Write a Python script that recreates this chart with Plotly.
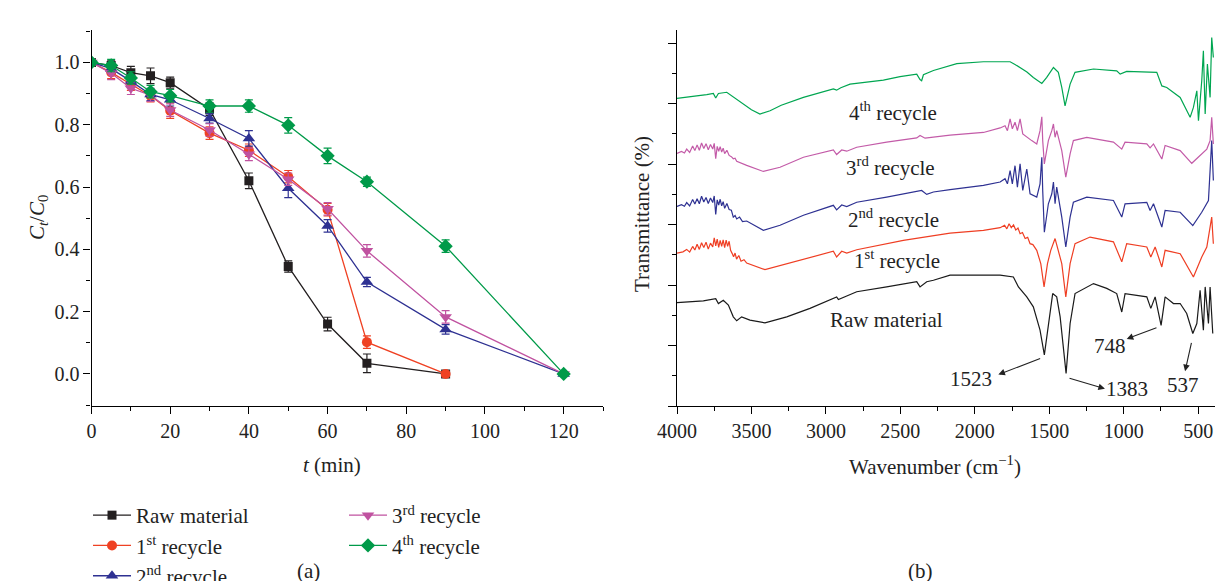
import plotly.graph_objects as go

# ---------------- (a) kinetics data ----------------
t_raw = [0, 5, 10, 15, 20, 30, 40, 50, 60, 70, 90]
c_raw = [1.0, 0.99, 0.967, 0.957, 0.935, 0.85, 0.62, 0.345, 0.16, 0.034, 0.0]
e_raw = [0.01, 0.015, 0.02, 0.025, 0.018, 0.02, 0.025, 0.018, 0.022, 0.03, 0.0]

t_r1 = [0, 5, 10, 15, 20, 30, 40, 50, 60, 70, 90]
c_r1 = [1.0, 0.968, 0.93, 0.893, 0.845, 0.773, 0.718, 0.633, 0.527, 0.102, 0.0]
e_r1 = [0.01, 0.02, 0.02, 0.02, 0.025, 0.02, 0.02, 0.02, 0.02, 0.02, 0.0]

t_r2 = [0, 5, 10, 15, 20, 30, 40, 50, 60, 70, 90, 120]
c_r2 = [1.0, 0.98, 0.94, 0.897, 0.88, 0.82, 0.756, 0.596, 0.475, 0.295, 0.143, 0.0]
e_r2 = [0.01, 0.015, 0.02, 0.02, 0.02, 0.015, 0.025, 0.03, 0.02, 0.015, 0.015, 0.0]

t_r3 = [0, 5, 10, 15, 20, 30, 40, 50, 60, 70, 90, 120]
c_r3 = [1.0, 0.965, 0.917, 0.895, 0.847, 0.783, 0.705, 0.625, 0.53, 0.395, 0.183, 0.0]
e_r3 = [0.01, 0.02, 0.02, 0.02, 0.02, 0.02, 0.02, 0.02, 0.02, 0.02, 0.02, 0.0]

t_r4 = [0, 5, 10, 15, 20, 30, 40, 50, 60, 70, 90, 120]
c_r4 = [1.0, 0.99, 0.95, 0.906, 0.893, 0.86, 0.86, 0.798, 0.70, 0.617, 0.41, 0.0]
e_r4 = [0.01, 0.02, 0.02, 0.02, 0.02, 0.02, 0.02, 0.025, 0.025, 0.015, 0.02, 0.0]

series_names = ["Raw material", "1<sup>st</sup> recycle", "2<sup>nd</sup> recycle",
                "3<sup>rd</sup> recycle", "4<sup>th</sup> recycle"]

# ---------------- (b) FTIR spectra (arbitrary transmittance units) ----------------
wn_r4 = [4000, 3935, 3868, 3800, 3756, 3740, 3722, 3666, 3633, 3554, 3500, 3443, 3375, 3300, 3151,
         2950, 2928, 2900, 2838, 2614, 2502, 2390, 2368, 2357, 2345, 2278, 2166, 2121, 1942, 1763,
         1730, 1696, 1650, 1607, 1550, 1517, 1472, 1439, 1416, 1394, 1360, 1327, 1203, 1047, 1024,
         980, 778, 744, 711, 621, 554, 532, 509, 498, 476, 465, 453, 438, 420, 409, 398]
tr_r4 = [101.8, 102.1, 102.6, 103.0, 103.4, 101.9, 103.4, 103.8, 102.7, 99.9, 98.0, 96.6, 97.7, 99.5, 102.1,
         104.9, 104.5, 105.3, 106.5, 107.8, 109.0, 109.8, 108.0, 107.6, 109.6, 111.0, 112.5, 113.3, 113.9, 113.9,
         113.0, 112.0, 110.5, 108.7, 106.7, 108.7, 112.0, 110.4, 105.4, 99.3, 106.5, 110.4, 111.5, 110.9, 109.8,
         110.7, 110.4, 105.9, 105.4, 102.1, 95.5, 98.8, 104.3, 94.4, 107.6, 117.5, 96.6, 113.1, 102.1, 121.9, 115.3]

wn_r3 = [4000, 3970, 3950, 3935, 3915, 3895, 3880, 3865, 3850, 3835, 3820, 3805, 3790, 3775, 3760,
         3750, 3740, 3730, 3720, 3710, 3700, 3690, 3680, 3665, 3650, 3635, 3622, 3610, 3599, 3580,
         3560, 3532, 3420, 3308, 3151, 2950, 2928, 2894, 2860, 2793, 2592, 2390, 2368, 2334, 2166,
         1942, 1830, 1797, 1781, 1763, 1748, 1730, 1714, 1696, 1678, 1651, 1618, 1584, 1562, 1550,
         1544, 1533, 1506, 1483, 1472, 1461, 1450, 1416, 1389, 1360, 1338, 1248, 1069, 1013, 991,
         845, 823, 800, 744, 722, 621, 543, 487, 442, 420, 409, 398]
tr_r3 = [83.6, 84.2, 83.7, 85.0, 83.9, 86.0, 84.5, 86.4, 84.6, 87.0, 85.2, 86.8, 84.8, 86.5, 85.0,
         86.9, 81.8, 85.9, 84.3, 85.8, 84.0, 85.3, 83.5, 84.6, 82.9, 82.5, 81.8, 82.0, 81.0, 80.6,
         80.4, 79.6, 77.6, 79.0, 82.3, 84.7, 83.2, 84.7, 84.3, 85.6, 87.3, 88.7, 89.5, 88.6, 89.6,
         90.5, 92.0, 92.7, 91.1, 95.0, 91.7, 93.9, 91.1, 95.0, 90.0, 88.9, 87.8, 86.7, 91.1, 95.7,
         87.8, 80.1, 87.8, 91.1, 93.3, 88.9, 91.1, 84.5, 75.7, 83.4, 87.8, 88.9, 87.3, 85.0, 87.3,
         86.7, 85.4, 86.7, 81.7, 86.2, 84.5, 80.3, 82.9, 85.0, 87.8, 95.5, 86.7]

wn_r2 = [4000, 3970, 3950, 3935, 3915, 3895, 3880, 3865, 3850, 3835, 3820, 3805, 3790, 3775, 3760,
         3750, 3740, 3730, 3720, 3710, 3700, 3690, 3680, 3665, 3650, 3635, 3622, 3610, 3599, 3580,
         3560, 3532, 3420, 3308, 3151, 2950, 2928, 2894, 2860, 2793, 2592, 2390, 2357, 2323, 2278,
         2166, 1942, 1830, 1797, 1781, 1763, 1748, 1730, 1714, 1696, 1678, 1651, 1629, 1584, 1562,
         1550, 1544, 1533, 1506, 1483, 1472, 1461, 1450, 1416, 1389, 1360, 1338, 1248, 1069, 1013,
         991, 845, 823, 800, 744, 722, 621, 536, 476, 431, 409, 398]
tr_r2 = [66.0, 66.6, 66.1, 67.3, 66.2, 68.3, 66.8, 68.6, 66.9, 69.4, 67.5, 69.0, 67.0, 68.8, 67.3,
         69.5, 63.4, 68.2, 66.5, 68.4, 66.2, 67.6, 65.4, 67.0, 65.0, 64.8, 62.5, 63.0, 61.9, 62.5,
         61.0, 61.2, 58.1, 59.8, 63.1, 66.4, 64.9, 66.5, 66.0, 67.4, 69.1, 70.8, 71.3, 70.0, 70.8,
         71.6, 73.0, 74.1, 75.2, 73.5, 77.9, 73.5, 79.5, 72.4, 80.1, 71.3, 78.4, 70.2, 69.1, 73.5,
         82.3, 71.3, 57.5, 66.9, 70.2, 74.1, 66.9, 72.4, 62.5, 52.6, 62.5, 67.4, 69.1, 68.0, 62.5,
         66.9, 67.4, 64.7, 66.9, 59.2, 64.7, 64.1, 59.7, 64.1, 68.0, 87.8, 74.6]

wn_r1 = [4000, 3960, 3935, 3915, 3895, 3880, 3865, 3850, 3835, 3820, 3805, 3790, 3775, 3760, 3750,
         3740, 3730, 3720, 3710, 3700, 3690, 3680, 3670, 3660, 3650, 3640, 3630, 3620, 3610, 3600,
         3585, 3570, 3550, 3532, 3409, 3263, 3107, 2950, 2928, 2894, 2860, 2793, 2480, 2166, 1942,
         1830, 1800, 1785, 1770, 1755, 1740, 1725, 1710, 1696, 1680, 1662, 1645, 1629, 1610, 1595,
         1584, 1557, 1535, 1512, 1490, 1461, 1439, 1416, 1389, 1360, 1327, 1226, 1069, 1013, 980,
         845, 818, 789, 744, 722, 621, 532, 476, 442, 409, 398]
tr_r1 = [50.6, 51.0, 51.8, 50.9, 52.8, 51.6, 53.5, 51.8, 54.0, 52.4, 54.2, 51.9, 53.9, 52.6, 55.6,
         53.0, 55.2, 52.5, 54.8, 52.8, 55.0, 52.4, 54.9, 52.8, 54.5, 51.5, 50.5, 49.4, 50.6, 48.6,
         49.8, 47.9, 48.4, 47.3, 45.1, 47.1, 49.3, 51.2, 49.3, 51.2, 50.6, 51.7, 54.8, 57.2, 58.1,
         59.0, 59.8, 58.6, 60.3, 59.0, 59.9, 58.2, 58.9, 57.0, 57.4, 55.4, 55.8, 53.7, 53.4, 52.2,
         51.5, 47.1, 39.4, 47.1, 51.5, 55.4, 51.5, 47.1, 36.1, 47.1, 53.7, 55.9, 54.3, 47.7, 53.7,
         52.6, 49.3, 52.6, 46.0, 51.5, 50.4, 42.7, 49.3, 52.6, 62.5, 53.7]

wn_raw = [4000, 3823, 3740, 3722, 3689, 3655, 3622, 3599, 3566, 3510, 3409, 3263, 3107, 2950, 2928,
          2916, 2793, 2592, 2390, 2368, 2323, 2278, 2166, 1830, 1741, 1707, 1651, 1607, 1562, 1533,
          1506, 1477, 1450, 1427, 1387, 1360, 1327, 1203, 1114, 1047, 1013, 991, 845, 818, 789,
          749, 722, 666, 621, 577, 536, 509, 487, 465, 453, 431, 420, 402]
tr_raw = [34.2, 34.8, 35.5, 33.9, 35.0, 33.4, 29.5, 28.2, 29.5, 28.4, 27.5, 29.5, 32.3, 35.5, 36.1,
          35.2, 37.8, 39.4, 41.1, 39.4, 41.1, 41.6, 43.3, 43.3, 42.7, 39.4, 36.1, 32.8, 25.1, 16.9,
          27.3, 37.2, 36.1, 29.5, 10.8, 27.3, 37.2, 40.5, 38.9, 37.2, 31.1, 37.2, 36.1, 32.3, 36.1,
          26.7, 36.1, 33.9, 33.9, 30.6, 24.0, 27.3, 38.3, 25.1, 39.4, 27.3, 39.4, 24.0]

colors_a = ["#231f20", "#ef4123", "#2e3192", "#c052a0", "#009a49"]
colors_b = ["#1a1a1a", "#ef3e23", "#2e3192", "#c35ba8", "#00a651"]
symbols = ["square", "circle", "triangle-up", "triangle-down", "diamond"]
msizes = [9, 10, 11, 11, 11]
legend_ids = ["legend", "legend", "legend", "legend2", "legend2"]

FONT = "Liberation Serif"
fig = go.Figure()

kin = [(t_raw, c_raw, e_raw), (t_r1, c_r1, e_r1), (t_r2, c_r2, e_r2),
       (t_r3, c_r3, e_r3), (t_r4, c_r4, e_r4)]
for i, (t, c, e) in enumerate(kin):
    fig.add_trace(go.Scatter(
        x=t, y=c, mode="lines+markers", name=series_names[i],
        line=dict(color=colors_a[i], width=1.3),
        marker=dict(symbol=symbols[i], size=msizes[i], color=colors_a[i]),
        error_y=dict(type="data", array=e, color=colors_a[i], thickness=1.2, width=4),
        legend=legend_ids[i], xaxis="x", yaxis="y"))

spec = [(wn_raw, tr_raw), (wn_r1, tr_r1), (wn_r2, tr_r2), (wn_r3, tr_r3), (wn_r4, tr_r4)]
for i, (w, v) in enumerate(spec):
    fig.add_trace(go.Scatter(
        x=w, y=v, mode="lines", line=dict(color=colors_b[i], width=1.2),
        showlegend=False, xaxis="x2", yaxis="y2", hoverinfo="skip"))

W, H = 1215, 581
def px(x):
    return x / W
def py(y):
    return 1 - y / H

axis_common = dict(showline=True, linecolor="black", linewidth=1.2, ticks="outside",
                   tickcolor="black", tickwidth=1.1, showgrid=False, zeroline=False,
                   tickfont=dict(family=FONT, size=20, color="#222"))

leg_common = dict(orientation="v", xanchor="left", yanchor="top", itemwidth=38,
                  font=dict(family=FONT, size=21, color="#222"),
                  bgcolor="rgba(0,0,0,0)", tracegroupgap=0)

fig.update_layout(
    width=W, height=H,
    margin=dict(l=0, r=0, t=0, b=0, autoexpand=False),
    paper_bgcolor="white", plot_bgcolor="white",
    font=dict(family=FONT, size=20, color="#222"),
    xaxis=dict(domain=[px(91.5), px(603)], range=[0, 130], dtick=20, tick0=0, ticklen=7,
               minor=dict(dtick=10, ticklen=4, tickcolor="black", ticks="outside"),
               anchor="y", **axis_common),
    yaxis=dict(domain=[py(405.7), py(30)], range=[-0.102, 1.104], dtick=0.2, tick0=0,
               tickformat=".1f", ticklen=7,
               minor=dict(dtick=0.1, ticklen=4, tickcolor="black", ticks="outside"),
               anchor="x", **axis_common),
    xaxis2=dict(domain=[px(677), 1.0], range=[4000, 387], dtick=500, tick0=0, ticklen=7,
                minor=dict(dtick=250, ticklen=4, tickcolor="black", ticks="outside"),
                anchor="y2", **axis_common),
    yaxis2=dict(domain=[py(406), py(30)], range=[0, 124.4], dtick=20, tick0=0, ticklen=8,
                showticklabels=False,
                minor=dict(dtick=10, ticklen=4, tickcolor="black", ticks="outside"),
                anchor="x2", **axis_common),
    legend=dict(x=px(88), y=py(495), **leg_common),
    legend2=dict(x=px(344), y=py(495), **leg_common),
)

ann = []
def text(x, y, s, xref="paper", yref="paper", angle=0, size=21, xanchor="center"):
    ann.append(dict(x=x, y=y, xref=xref, yref=yref, text=s, showarrow=False,
                    textangle=angle, xanchor=xanchor, yanchor="middle",
                    font=dict(family=FONT, size=size, color="#222")))

# axis titles & panel labels
text(px(38), py(218), "<i>C<sub>t</sub></i>/<i>C</i><sub>0</sub>", angle=-90)
text(px(332), py(465), "<i>t</i> (min)")
text(px(642), py(214), "Transmittance (%)", angle=-90)
text(px(935), py(465), "Wavenumber (cm<sup>\u22121</sup>)")
text(px(308), py(571), "(a)")
text(px(920), py(571), "(b)")

# spectra labels
text(2549, 97.5, "4<sup>th</sup> recycle", "x2", "y2")
text(2563, 79.3, "3<sup>rd</sup> recycle", "x2", "y2")
text(2549, 62.0, "2<sup>nd</sup> recycle", "x2", "y2")
text(2522, 48.5, "1<sup>st</sup> recycle", "x2", "y2")
text(2590, 28.6, "Raw material", "x2", "y2")
text(2026, 8.8, "1523", "x2", "y2")
text(980, 5.6, "1383", "x2", "y2")
text(1092, 19.8, "748", "x2", "y2")
text(601, 6.8, "537", "x2", "y2")

# arrows (tail at the band, head toward the label)
for (hx, hy, tx, ty) in [(1842, 10.4, 1551, 15.9), (1126, 5.7, 1374, 9.3),
                         (980, 22.2, 770, 26.1), (588, 11.5, 543, 21.4)]:
    ann.append(dict(x=hx, y=hy, ax=tx, ay=ty, xref="x2", yref="y2", axref="x2", ayref="y2",
                    text="", showarrow=True, arrowhead=2, arrowsize=1.2, arrowwidth=1.1,
                    arrowcolor="#222"))

fig.update_layout(annotations=ann)
fig.write_html("out.html")
